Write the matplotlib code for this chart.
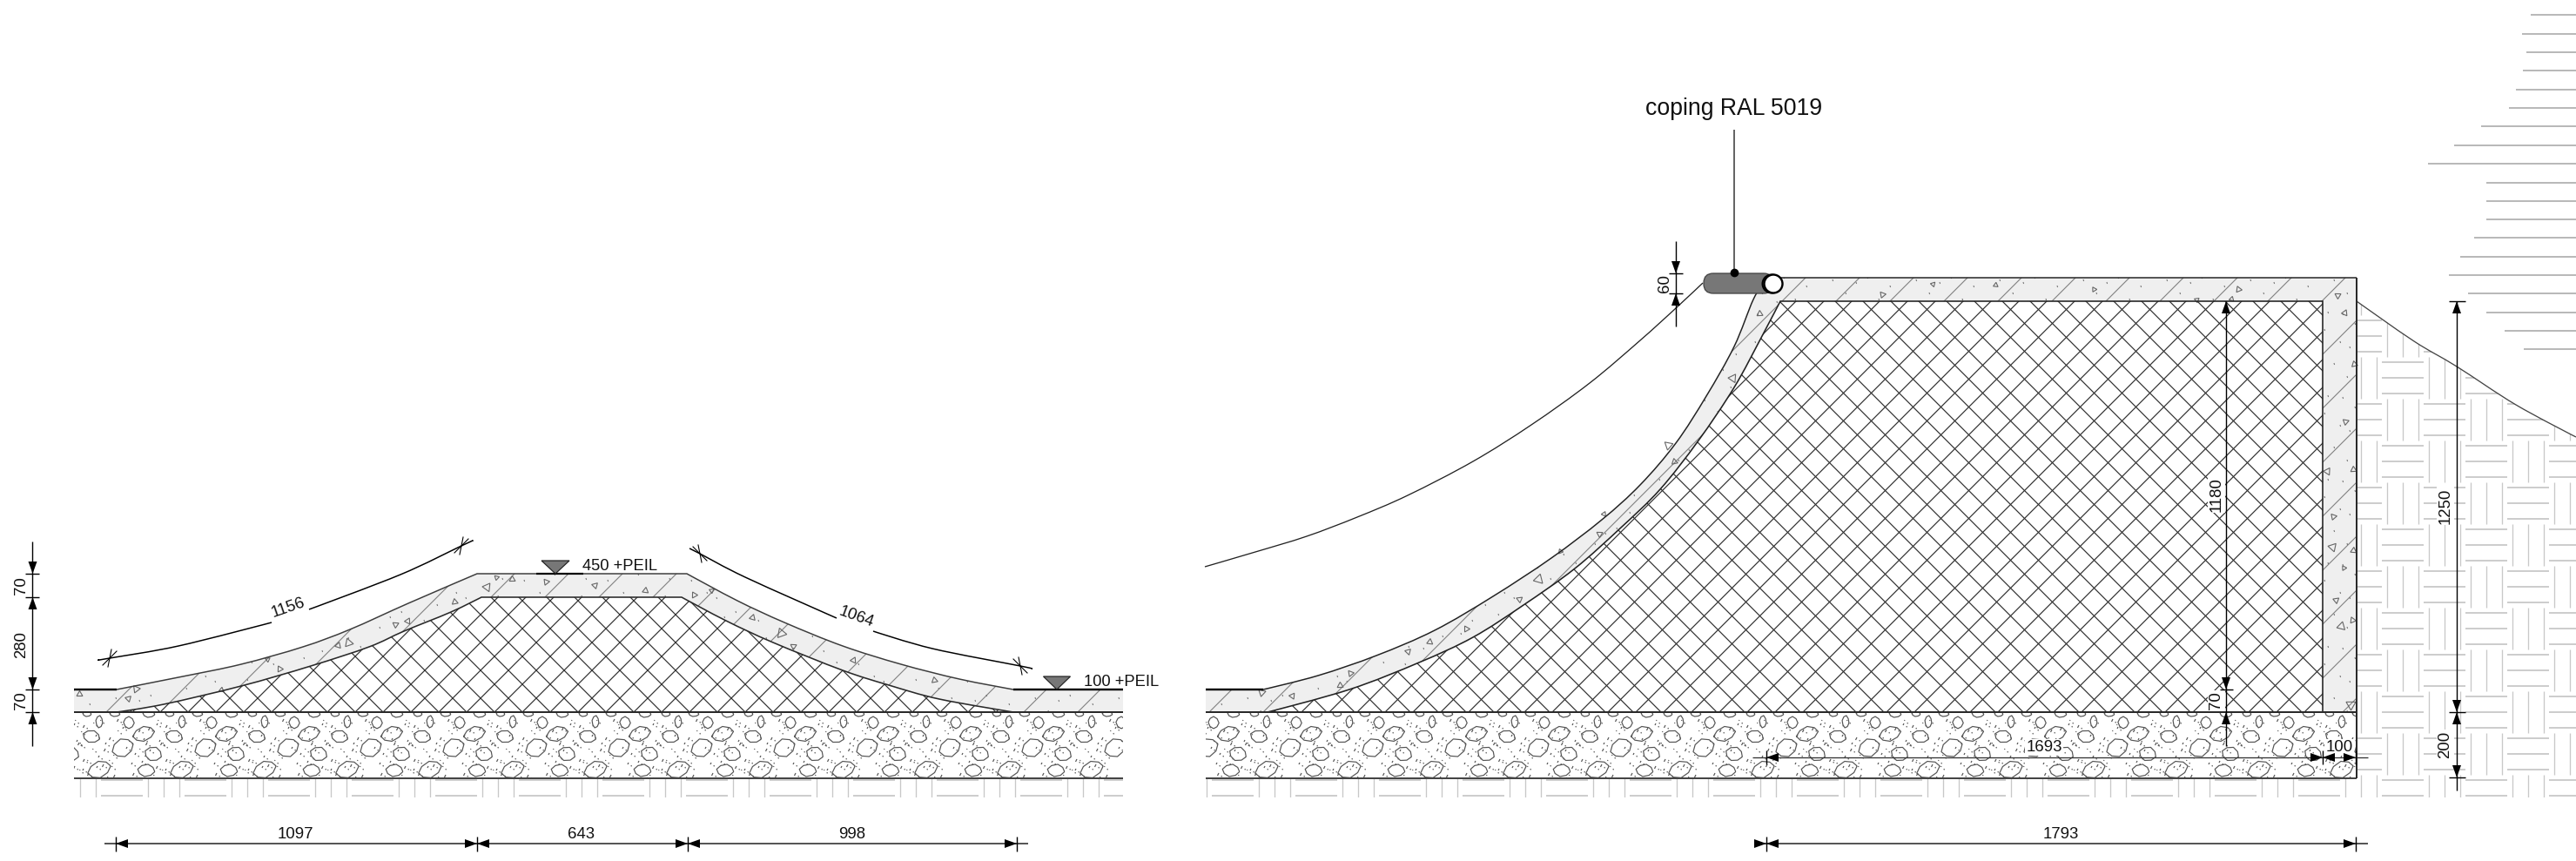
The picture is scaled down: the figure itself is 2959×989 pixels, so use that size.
import numpy as np
import matplotlib
matplotlib.use('Agg')
import matplotlib.pyplot as plt
from matplotlib.collections import LineCollection
from matplotlib.patches import Polygon, FancyBboxPatch, Circle, PathPatch
from matplotlib.path import Path

plt.rcParams['font.family'] = ['Liberation Sans', 'DejaVu Sans']

# All positions in image pixels
W, H = 2959, 989
PX = 0.72  # one pixel in points at dpi 100

Y_TOP = 659
Y_GROUND = 792
Y_BASE = 818
Y_GRAVEL = 894
Y_PATTERN = 916

# left section (speed bump)
L_X0, L_X1 = 85, 1290
L_OUTER = [(85, 792), (134, 792), (210, 777), (277, 763), (348, 743), (402, 723),
           (469, 693), (548, 659), (789, 659), (847, 690), (901, 715), (968, 742),
           (1035, 763), (1102, 780), (1164, 792), (1290, 792)]
L_OUTER_CORNERS = [0, 1, 7, 8, 14, 15]
L_INNER = [(134, 818), (188, 809), (277, 788), (357, 765), (424, 743), (464, 725),
           (518, 703), (553, 686), (783, 686), (834, 713), (888, 738), (968, 770),
           (1021, 787), (1079, 803), (1164, 818)]
L_INNER_CORNERS = [0, 7, 8, 14]

# right section (ramp and wall)
R_X0, R_X1 = 1385, 2707
R_OUTER = [(1385, 792), (1451, 792), (1514, 776), (1581, 753), (1648, 724), (1715, 685),
           (1782, 641), (1840, 597), (1884, 557), (1925, 509), (1960, 455), (1992, 398),
           (2014, 344), (2027, 324), (2035, 319), (2707, 319)]
R_OUTER_CORNERS = [0, 1, 14, 15]
R_INNER = [(1456, 818), (1550, 792), (1630, 761), (1692, 732), (1750, 695), (1809, 653),
           (1862, 606), (1907, 562), (1951, 506), (1992, 445), (2023, 388), (2045, 346),
           (2668, 346), (2668, 818)]
R_INNER_CORNERS = [0, 11, 12, 13]
R_RIDE = [(1384, 651), (1442, 634), (1501, 616), (1559, 594), (1617, 569), (1692, 530),
          (1759, 488), (1826, 440), (1884, 391), (1925, 354), (1956, 325)]
SLOPE = [(2707, 346), (2773, 392), (2822, 421), (2890, 465), (2959, 502)]

# far right horizontal lines: start x, y
SKY_X = [2907, 2897, 2902, 2898, 2890, 2882, 2850, 2819, 2789, 2856, 2856, 2856, 2842,
         2826, 2813, 2835, 2856, 2877, 2899]
SKY_Y = [17, 39, 60, 81, 103, 124, 145, 167, 188, 210, 231, 252, 273, 295, 316, 337, 359, 380, 401]

# triangles in the concrete: x, y, size
TRI_X = [91, 156, 147, 254, 321, 307, 388, 400, 454, 468, 522, 570, 559, 588, 627, 683,
         741, 797, 817, 864, 897, 911, 980, 1073,
         1449, 1484, 1539, 1551, 1617, 1642, 1684, 1745, 1767, 1792, 1837, 1842, 1923, 1916, 1990, 2021,
         2162, 2220, 2292, 2405, 2523, 2563, 2571,
         2685, 2693, 2704, 2694, 2673, 2703, 2680, 2679, 2703, 2692, 2683, 2689, 2702, 2700]
TRI_Y = [797, 791, 802, 792, 768, 757, 741, 738, 717, 713, 691, 663, 674, 665, 668, 672,
         678, 683, 678, 709, 727, 742, 758, 781,
         795, 799, 787, 773, 748, 737, 722, 688, 665, 633, 613, 590, 530, 511, 434, 360,
         338, 326, 327, 332, 344, 343, 332,
         339, 359, 418, 484, 541, 539, 593, 628, 632, 652, 689, 719, 712, 809]
TRI_S = [5, 6, 5, 4, 5, 4, 5, 7, 5, 5, 5, 4, 7, 5, 5, 5,
         5, 5, 4, 5, 8, 5, 5, 5,
         6, 5, 5, 5, 5, 5, 5, 5, 8, 4, 5, 4, 5, 7, 7, 5,
         5, 4, 4, 4, 4, 4, 5,
         5, 5, 5, 5, 6, 5, 5, 7, 5, 4, 5, 7, 5, 8]

# gravel tile, repeats every 95 px: cx, cy, half width, half height, angle
GRAVEL_PERIOD = 95
STONE_X = [50, 77, 41, 6, 17, 9, 12, 36, 68, 50, 84]
STONE_Y = [884, 859, 846, 843, 866, 885, 820, 820, 820, 829, 830]
STONE_W = [14, 13, 10, 13, 10, 10, 7, 5, 6, 4, 7]
STONE_H = [9, 10, 7, 8, 8, 7, 4, 3, 3, 7, 6]
STONE_A = [-25, -30, 10, -20, 10, 0, 0, 0, 0, 0, 80]
SPECK_X = [23, 22, 33, 77, 78, 63, 72, 30, 27, 2, 58, 57, 67, 92, 10, 8, 14, 33, 37, 50,
           22, 28, 32, 68, 65, 88, 90, 30, 25, 2, 52, 47, 90, 85, 7, 13, 43, 48, 55, 18,
           5, 38, 62, 82, 72, 44, 15, 60]
SPECK_Y = [9, 13, 15, 14, 17, 29, 21, 37, 35, 42, 35, 42, 49, 47, 35, 50, 43, 54, 55, 50,
           62, 66, 65, 72, 62, 58, 70, 22, 32, 20, 9, 26, 26, 33, 30, 18, 42, 62, 60, 72,
           56, 70, 55, 40, 8, 12, 75, 74]
L_GRAVEL_X0 = 64
R_GRAVEL_X0 = 1500

# concrete specks, tile of 96 px
CONC_X = [7, 18, 33, 41, 55, 63, 72, 88, 12, 27, 48, 66, 80, 93, 5, 37, 58, 75]
CONC_Y = [12, 40, 22, 70, 8, 48, 83, 30, 88, 60, 33, 14, 58, 75, 55, 90, 72, 36]

# basket weave centres
WEAVE_CELL = 48
WEAVE_R_X, WEAVE_Y = 2760, 434
WEAVE_L_X = 140

# hatch phases: x+y and x-y of a crossing on the base line
L_CROSS = (1354, -282)
R_CROSS = (2825, 1186)
HATCH_STEP = 32
BAND_STEP = 62
L_BAND = 1250
R_BAND = 3075

# dimensions
DIM_LEFT_TICKS = [659, 686, 792, 818]
BOTTOM_LEFT_TICKS = [133, 548, 790, 1168]
BOTTOM_LEFT_LABELS = ['1097', '643', '998']
BOTTOM_LEFT_LABEL_X = [339, 668, 979]
CURVE_1156_A = [(114, 758), (126, 756), (205, 742), (312, 715)]
CURVE_1156_B = [(355, 700), (460, 660), (530, 627), (543, 621)]
CURVE_1064_A = [(792, 630), (804, 636), (856, 663), (961, 710)]
CURVE_1064_B = [(1003, 725), (1071, 745), (1172, 765), (1185, 768)]

DARK = '#2a2a2a'
WEAVE = '#c8c8c8'
CONCRETE = '#efefef'
COPING = '#777777'

fig = plt.figure(figsize=(W / 100, H / 100), dpi=100)
ax = fig.add_axes([0, 0, 1, 1])
ax.set_xlim(0, W)
ax.set_ylim(H, 0)
ax.axis('off')


def curve_verts(points, corners=()):
    # bezier pieces through the read points, sharp at the corner indices
    p = np.array(points, dtype=float)
    n = len(p)
    tan = np.zeros_like(p)
    for i in range(n):
        if i not in corners and 0 < i < n - 1:
            tan[i] = (p[i + 1] - p[i - 1]) / 6
    verts = [tuple(p[0])]
    for i in range(n - 1):
        verts += [tuple(p[i] + tan[i]), tuple(p[i + 1] - tan[i + 1]), tuple(p[i + 1])]
    return verts


def make_path(verts):
    codes = [Path.MOVETO] + [Path.CURVE4] * (len(verts) - 1)
    return Path(verts, codes)


def closed_path(first, second, extra_a=(), extra_b=()):
    # first curve, a few straight points, second curve reversed, straight back
    verts = list(first)
    codes = [Path.MOVETO] + [Path.CURVE4] * (len(first) - 1)
    for pt in extra_a:
        verts.append(pt)
        codes.append(Path.LINETO)
    rev = list(second)[::-1]
    verts.append(rev[0])
    codes.append(Path.LINETO)
    verts += rev[1:]
    codes += [Path.CURVE4] * (len(rev) - 1)
    for pt in extra_b:
        verts.append(pt)
        codes.append(Path.LINETO)
    verts.append(first[0])
    codes.append(Path.CLOSEPOLY)
    return Path(verts, codes)


def clip_patch(clip):
    if isinstance(clip, Path):
        return PathPatch(clip, transform=ax.transData)
    return Polygon(clip, closed=True, transform=ax.transData)


def segments(segs, color, lw, clip=None, z=2):
    lc = LineCollection(segs, colors=color, linewidths=lw * PX, zorder=z, capstyle='butt')
    ax.add_collection(lc)
    if clip is not None:
        lc.set_clip_path(clip_patch(clip))
    return lc


def curve_line(points, corners=(), color=DARK, lw=1.5, z=5):
    ax.add_patch(PathPatch(make_path(curve_verts(points, corners)), fc='none', ec=color,
                           lw=lw * PX, zorder=z, capstyle='butt'))


def hatch(clip, cross):
    segs = []
    h = 700
    for k in range(-80, 80):
        s = cross[0] + k * HATCH_STEP
        d = cross[1] + k * HATCH_STEP
        segs.append([(s - 200, 200), (s - 200 - h, 200 + h)])
        segs.append([(d + 200, 200), (d + 200 + h, 200 + h)])
    segments(segs, '#303030', 1.2, clip, z=3)


def band_lines(clip, start):
    segs = []
    for k in range(-60, 60):
        s = start + k * BAND_STEP
        segs.append([(s - 200, 200), (s - 200 - 700, 900)])
    segments(segs, '#808080', 1.1, clip, z=2)


def concrete_specks(clip, x0, x1):
    segs = []
    for ox in range(x0, x1, 96):
        for oy in range(288, 864, 96):
            for cx, cy in zip(CONC_X, CONC_Y):
                segs.append([(ox + cx, oy + cy), (ox + cx + 0.6, oy + cy + 2)])
    segments(segs, '#777777', 1.1, clip, z=2)


def gravel(x_start, x0, x1):
    clip = [(x0, Y_BASE), (x1, Y_BASE), (x1, Y_GRAVEL), (x0, Y_GRAVEL)]
    ang = np.deg2rad(np.arange(0, 360, 45) + 12)
    rad = np.array([1.0, 0.95, 1.02, 0.92, 1.0, 0.95, 1.03, 0.92])
    stones, specks = [], []
    n0 = int((x0 - x_start) // GRAVEL_PERIOD) - 1
    n1 = int((x1 - x_start) // GRAVEL_PERIOD) + 2
    for n in range(n0, n1):
        ox = x_start + n * GRAVEL_PERIOD
        for cx, cy, w, h, a in zip(STONE_X, STONE_Y, STONE_W, STONE_H, STONE_A):
            u = rad * np.cos(ang) * w
            v = rad * np.sin(ang) * h
            t = np.deg2rad(a)
            px = ox + cx + u * np.cos(t) - v * np.sin(t)
            py = cy + u * np.sin(t) + v * np.cos(t)
            stones.append(list(zip(px, py)) + [(px[0], py[0])])
        for i, (sx, sy) in enumerate(zip(SPECK_X, SPECK_Y)):
            ln = 1 + i % 3
            specks.append([(ox + sx, Y_BASE + sy), (ox + sx - 0.5 * ln, Y_BASE + sy + ln)])
            specks.append([(ox + sx + 3, Y_BASE + sy + 3), (ox + sx + 3.4, Y_BASE + sy + 4.4)])
    segments(stones, '#555555', 1.2, clip, z=2)
    segments(specks, '#555555', 1.2, clip, z=2)


def weave(cx0, clip, x0, x1, y0, y1):
    segs_h, segs_v = [], []
    n0 = int((x0 - cx0) // WEAVE_CELL) - 1
    n1 = int((x1 - cx0) // WEAVE_CELL) + 2
    j0 = int((y0 - WEAVE_Y) // WEAVE_CELL) - 1
    j1 = int((y1 - WEAVE_Y) // WEAVE_CELL) + 2
    for i in range(n0, n1):
        for j in range(j0, j1):
            cx = cx0 + i * WEAVE_CELL
            cy = WEAVE_Y + j * WEAVE_CELL
            for off in (-18, 0, 18):
                if (i + j) % 2 == 0:
                    segs_h.append([(cx - 24, cy + off), (cx + 24, cy + off)])
                else:
                    segs_v.append([(cx + off, cy - 24), (cx + off, cy + 24)])
    segments(segs_h, WEAVE, 1.8, clip, z=1)
    segments(segs_v, WEAVE, 1.3, clip, z=1)


def arrow(x, y, dx, dy, size=14, half=5):
    # tip at x, y, pointing along dx, dy
    tail = (x - dx * size, y - dy * size)
    pts = [(x, y), (tail[0] - dy * half, tail[1] + dx * half), (tail[0] + dy * half, tail[1] - dx * half)]
    ax.add_patch(Polygon(pts, closed=True, fc='black', ec='none', zorder=9))


def dim_text(x, y, s, rot=0, mask=False, ha='center', va='center', size=13.4):
    kw = {}
    if mask:
        kw['bbox'] = dict(fc='white', ec='none', pad=1.0)
    ax.text(x, y, s, fontsize=size, rotation=rot, rotation_mode='anchor', ha=ha, va=va,
            color='#111111', zorder=8, **kw)


def vline(x, y0, y1, color='black', lw=1.4, z=9):
    ax.plot([x, x], [y0, y1], color=color, lw=lw * PX, zorder=z, solid_capstyle='butt')


def hline(y, x0, x1, color='black', lw=1.4, z=9):
    ax.plot([x0, x1], [y, y], color=color, lw=lw * PX, zorder=z, solid_capstyle='butt')


# --- left section ---
l_out = curve_verts(L_OUTER, L_OUTER_CORNERS)
l_in = curve_verts(L_INNER, L_INNER_CORNERS)
l_band = closed_path(l_out, l_in, extra_a=[(L_X1, Y_BASE)], extra_b=[(L_X0, Y_BASE)])
l_core = closed_path(l_in, [l_in[0], l_in[0], l_in[0], l_in[0]])
ax.add_patch(PathPatch(l_band, fc=CONCRETE, ec='none', zorder=1.5))
band_lines(l_band, L_BAND)
concrete_specks(l_band, L_X0, L_X1)
hatch(l_core, L_CROSS)
gravel(L_GRAVEL_X0, L_X0, L_X1)
weave(WEAVE_L_X, [(L_X0, Y_GRAVEL), (L_X1, Y_GRAVEL), (L_X1, Y_PATTERN), (L_X0, Y_PATTERN)],
      L_X0, L_X1, Y_GRAVEL, Y_PATTERN)

curve_line(L_OUTER, L_OUTER_CORNERS, color='#3c3c3c', lw=1.5)
curve_line(L_INNER, L_INNER_CORNERS, color=DARK, lw=1.6)
hline(Y_BASE, L_X0, L_X1, color=DARK, lw=2, z=5)
hline(Y_GRAVEL, L_X0, L_X1, color='#444444', lw=2, z=5)
hline(Y_GROUND, L_X0, 134, color='black', lw=2.4, z=6)
hline(Y_GROUND, 1164, L_X1, color='black', lw=2.4, z=6)
hline(Y_TOP, 616, 670, color='black', lw=2.2, z=6)

# --- right section ---
r_out = curve_verts(R_OUTER, R_OUTER_CORNERS)
r_in = curve_verts(R_INNER, R_INNER_CORNERS)
r_band = closed_path(r_out, r_in, extra_a=[(R_X1, Y_BASE)], extra_b=[(R_X0, Y_BASE)])
r_core = closed_path(r_in, [r_in[0], r_in[0], r_in[0], r_in[0]])
ax.add_patch(PathPatch(r_band, fc=CONCRETE, ec='none', zorder=1.5))
band_lines(r_band, R_BAND)
concrete_specks(r_band, R_X0, R_X1)
hatch(r_core, R_CROSS)
gravel(R_GRAVEL_X0, R_X0, R_X1)
weave_clip = [(R_X0, Y_GRAVEL), (R_X1, Y_GRAVEL)] + SLOPE + [(W, Y_PATTERN), (R_X0, Y_PATTERN)]
weave(WEAVE_R_X, weave_clip, R_X0, W, 346, Y_PATTERN)

curve_line(R_OUTER, R_OUTER_CORNERS, color='#222222', lw=1.5)
curve_line(R_INNER, R_INNER_CORNERS, color='#222222', lw=1.6)
curve_line(R_RIDE, (), color='#222222', lw=1.3)
curve_line(SLOPE, (), color='#444444', lw=1.3)
hline(Y_BASE, R_X0, R_X1, color=DARK, lw=2, z=5)
hline(Y_GRAVEL, R_X0, R_X1, color='#444444', lw=2, z=5)
vline(R_X1, 319, Y_GRAVEL, color=DARK, lw=2, z=5)
hline(Y_GROUND, R_X0, 1451, color='black', lw=2.4, z=6)

# band triangles
for i, (tx, ty, ts) in enumerate(zip(TRI_X, TRI_Y, TRI_S)):
    ax.plot([tx], [ty], marker=(3, 0, (i * 37) % 120), ms=ts * 1.15, mfc='none', mec='#666666',
            mew=0.8, zorder=2.5)

# sky lines top right
segments([[(x, y), (W, y)] for x, y in zip(SKY_X, SKY_Y)], '#a8a8a8', 1.6)

# level markers
for apex, y, half in [(638, Y_TOP, 16), (1214, Y_GROUND, 15.5)]:
    ax.add_patch(Polygon([(apex, y), (apex - half, y - 15), (apex + half, y - 15)], closed=True,
                         fc=COPING, ec='#222222', lw=1.2 * PX, zorder=7))
ax.text(669, 655, '450 +PEIL', fontsize=13.2, ha='left', va='baseline', color='#111111', zorder=8)
ax.text(1245, 788, '100 +PEIL', fontsize=13.2, ha='left', va='baseline', color='#111111', zorder=8)

# coping
ax.add_patch(FancyBboxPatch((1957, 314), 80, 23, boxstyle='round,pad=0,rounding_size=11',
                            fc=COPING, ec='#444444', lw=1.3 * PX, zorder=6))
ax.add_patch(Circle((2035, 326), 10.5, fc='none', ec='black', lw=2 * PX, zorder=7))
ax.add_patch(Circle((2037, 326), 10.5, fc='white', ec='black', lw=2.4 * PX, zorder=7))
vline(1992, 149, 313, color='#333333', lw=1.5)
ax.plot([1992], [313], 'o', ms=6, color='black', zorder=9)
ax.text(1992, 132, 'coping RAL 5019', fontsize=19.2, ha='center', va='baseline', color='#111111')

# left vertical dimension
vline(37.5, 622, 857)
for y in DIM_LEFT_TICKS:
    hline(y, 29, 45)
arrow(37.5, 659, 0, 1)
arrow(37.5, 686, 0, -1)
arrow(37.5, 792, 0, 1)
arrow(37.5, 818, 0, -1)
dim_text(25, 672.5, '70', rot=90)
dim_text(25, 740, '280', rot=90)
dim_text(25, 805, '70', rot=90)

# bottom dimensions
hline(969, 120, 1181, color='#444444', lw=1.8)
for x in BOTTOM_LEFT_TICKS:
    vline(x, 961, 978)
arrow(133, 969, -1, 0)
arrow(548, 969, 1, 0)
arrow(548, 969, -1, 0)
arrow(790, 969, 1, 0)
arrow(790, 969, -1, 0)
arrow(1168, 969, 1, 0)
for x, s in zip(BOTTOM_LEFT_LABEL_X, BOTTOM_LEFT_LABELS):
    dim_text(x, 963, s, va='baseline')

hline(969, 2015, 2720, color='#444444', lw=1.8)
vline(2029, 961, 978)
vline(2706, 961, 978)
arrow(2029, 969, 1, 0)
arrow(2029, 969, -1, 0)
arrow(2706, 969, 1, 0)
dim_text(2367, 963, '1793', va='baseline')

# 1693 and 100
hline(870, 2013, 2720, color='#333333', lw=1.3)
vline(2029, 862, 878)
vline(2668, 862, 878)
vline(2706, 862, 878)
arrow(2029, 870, -1, 0)
arrow(2668, 870, 1, 0)
arrow(2668, 870, -1, 0)
arrow(2706, 870, 1, 0)
dim_text(2348, 863, '1693', va='baseline', mask=True)
dim_text(2687, 863, '100', va='baseline', mask=True)

# 1180 and 70
vline(2557, 346, 857)
hline(792, 2550, 2565)
arrow(2557, 346, 0, -1)
arrow(2557, 792, 0, 1)
arrow(2557, 818, 0, -1)
dim_text(2546, 568, '1180', rot=90, mask=True)
dim_text(2546, 805, '70', rot=90, mask=True)

# 1250 and 200
vline(2822, 346, 908)
for y in (346, 818, 893):
    hline(y, 2813, 2832)
arrow(2822, 346, 0, -1)
arrow(2822, 818, 0, 1)
arrow(2822, 818, 0, -1)
arrow(2822, 893, 0, 1)
dim_text(2809, 581, '1250', rot=90, mask=True)
dim_text(2809, 855, '200', rot=90, mask=True)

# 60
vline(1925, 277, 375)
hline(314, 1917, 1933)
hline(337, 1917, 1933)
arrow(1925, 314, 0, 1)
arrow(1925, 337, 0, -1)
dim_text(1913, 326, '60', rot=90)

# curved dimensions
curve_line(CURVE_1156_A, (), color='black', lw=1.5, z=7)
curve_line(CURVE_1156_B, (), color='black', lw=1.5, z=7)
curve_line(CURVE_1064_A, (), color='black', lw=1.5, z=7)
curve_line(CURVE_1064_B, (), color='black', lw=1.5, z=7)
for x, y, flip in [(126, 756, 1), (530, 627, 1), (804, 636, -1), (1172, 765, -1)]:
    ax.plot([x - 2 * flip, x + 2 * flip], [y + 10, y - 10], color='black', lw=1.1 * PX, zorder=7)
    ax.plot([x - 8, x + 8], [y + 8 * flip, y - 8 * flip], color='black', lw=1.1 * PX, zorder=7)
dim_text(331, 698, '1156', rot=19)
dim_text(984, 709, '1064', rot=-20)

fig.savefig('out.png', dpi=100)
